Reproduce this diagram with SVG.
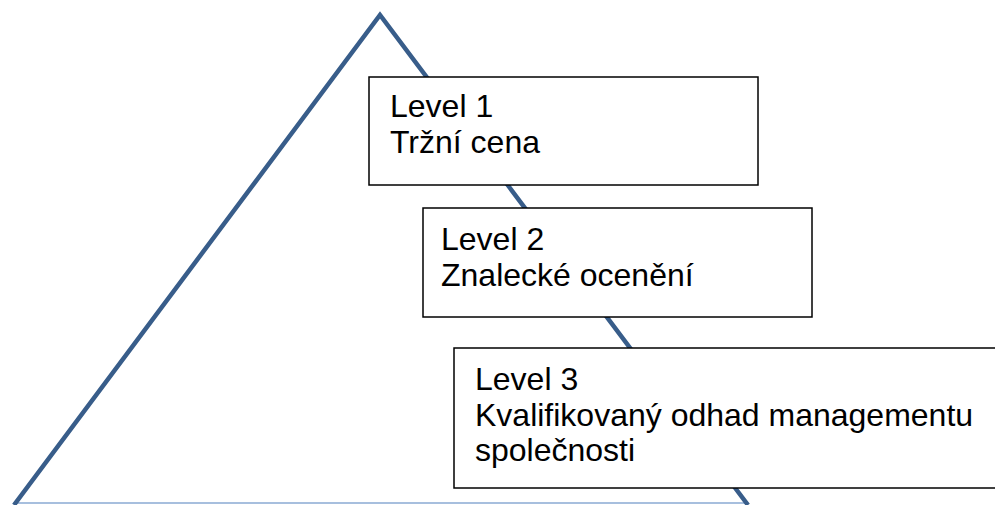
<svg xmlns="http://www.w3.org/2000/svg" width="995" height="505" viewBox="0 0 995 505">
<style>
.edge{fill:none;stroke:#385D8A;stroke-width:4.5;stroke-linejoin:miter;stroke-linecap:butt}
.base{fill:none;stroke:#A7BFDE;stroke-width:2}
.box{fill:#FFFFFF;stroke:#000000;stroke-width:1.5}
.t{font-family:"Liberation Sans",Arial,sans-serif;font-size:32px;fill:#000000}
</style>
<rect width="995" height="505" fill="#FFFFFF"/>
<g id="pyramid">
<line class="base" x1="14" y1="503" x2="747" y2="503"/>
<polyline class="edge" points="14,505 380,15 748,505"/>
</g>
<g id="level1">
<rect class="box" x="369" y="77" width="389" height="108"/>
<text class="t" x="390" y="117">Level 1</text>
<text class="t" x="390" y="153">Tržní cena</text>
</g>
<g id="level2">
<rect class="box" x="423" y="208" width="389" height="109"/>
<text class="t" x="441" y="250">Level 2</text>
<text class="t" x="441" y="286">Znalecké ocenění</text>
</g>
<g id="level3">
<rect class="box" x="454" y="348" width="560" height="140"/>
<text class="t" x="475" y="390">Level 3</text>
<text class="t" x="475" y="425.5">Kvalifikovaný odhad managementu</text>
<text class="t" x="475" y="461">společnosti</text>
</g>
</svg>
